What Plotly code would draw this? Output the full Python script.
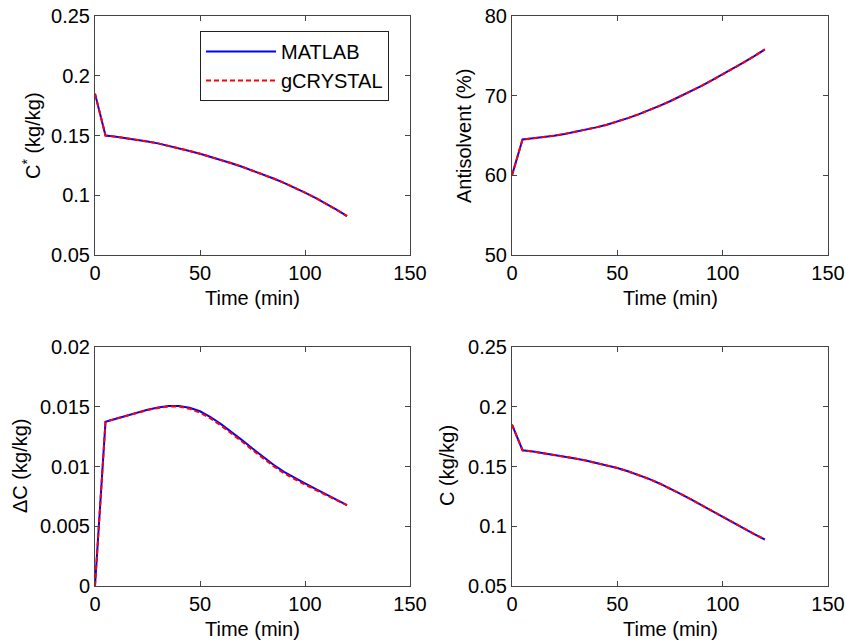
import plotly.graph_objects as go

# ---------------- data ----------------
time = [0, 5, 10, 15, 20, 25, 30, 35, 40, 45, 50, 55, 60, 65, 70, 75, 80, 85, 90, 95, 100, 105, 110, 115, 120]

cstar_matlab = [0.1850, 0.1500, 0.1490, 0.1478, 0.1465, 0.1450, 0.1434, 0.1415, 0.1394, 0.1371, 0.1347, 0.1322,
                0.1296, 0.1268, 0.1239, 0.1208, 0.1175, 0.1140, 0.1103, 0.1064, 0.1022, 0.0978, 0.0930, 0.0879, 0.0825]
cstar_gcrystal = [0.1850, 0.1500, 0.1490, 0.1478, 0.1465, 0.1450, 0.1434, 0.1415, 0.1394, 0.1371, 0.1347, 0.1322,
                  0.1296, 0.1268, 0.1239, 0.1208, 0.1175, 0.1140, 0.1103, 0.1064, 0.1022, 0.0978, 0.0930, 0.0879, 0.0825]

anti_matlab = [60.0, 64.5, 64.65, 64.8, 64.98, 65.2, 65.45, 65.72, 66.02, 66.36, 66.75, 67.18, 67.65, 68.16, 68.71,
               69.3, 69.92, 70.57, 71.24, 71.94, 72.66, 73.4, 74.17, 74.96, 75.8]
anti_gcrystal = [60.0, 64.5, 64.65, 64.8, 64.98, 65.2, 65.45, 65.72, 66.02, 66.36, 66.75, 67.18, 67.65, 68.16, 68.71,
                 69.3, 69.92, 70.57, 71.24, 71.94, 72.66, 73.4, 74.17, 74.96, 75.8]

dc_matlab = [0.0, 0.01374, 0.01400, 0.01427, 0.01453, 0.01475, 0.01494, 0.01506, 0.01506, 0.01492, 0.01462, 0.01414,
             0.01355, 0.01290, 0.01221, 0.01150, 0.01081, 0.01015, 0.00955, 0.00903, 0.00858, 0.00812, 0.00768,
             0.00722, 0.00676]
dc_gcrystal = [0.0, 0.01374, 0.01400, 0.01426, 0.01451, 0.01472, 0.01490, 0.01502, 0.01501, 0.01484, 0.01450,
               0.01402, 0.01343, 0.01278, 0.01209, 0.01138, 0.01069, 0.01003, 0.00943, 0.00892, 0.00848, 0.00805,
               0.00763, 0.00719, 0.00676]

c_matlab = [0.1850, 0.1636, 0.1625, 0.1612, 0.1598, 0.1583, 0.1567, 0.1550, 0.1531, 0.1510, 0.1487, 0.1460, 0.1430,
            0.1396, 0.1358, 0.1316, 0.1271, 0.1224, 0.1175, 0.1126, 0.1077, 0.1029, 0.0982, 0.0935, 0.0889]
c_gcrystal = [0.1850, 0.1636, 0.1625, 0.1612, 0.1598, 0.1583, 0.1567, 0.1550, 0.1531, 0.1510, 0.1487, 0.1460, 0.1430,
              0.1396, 0.1358, 0.1316, 0.1271, 0.1224, 0.1175, 0.1126, 0.1077, 0.1029, 0.0982, 0.0935, 0.0889]

x_ticks = [0, 50, 100, 150]
series_names = ["MATLAB", "gCRYSTAL"]

# ---------------- figure ----------------
W, H = 845, 642
L, R, T, B = 95, 17, 16, 56
pw, ph = W - L - R, H - T - B

def px_x(p):
    return (p - L) / pw

def px_y(p):
    return (H - B - p) / ph

FONT = "Liberation Sans, Arial, sans-serif"
FS = 20

fig = go.Figure()

panels = [
    ("x", "y", cstar_matlab, cstar_gcrystal, True),
    ("x2", "y2", anti_matlab, anti_gcrystal, False),
    ("x3", "y3", dc_matlab, dc_gcrystal, False),
    ("x4", "y4", c_matlab, c_gcrystal, False),
]

for xa, ya, m, g, show in panels:
    fig.add_trace(go.Scatter(x=time, y=m, mode="lines", name=series_names[0],
                             line=dict(color="#0000ff", width=2),
                             xaxis=xa, yaxis=ya, showlegend=show))
    fig.add_trace(go.Scatter(x=time, y=g, mode="lines", name=series_names[1],
                             line=dict(color="#ff0000", width=2, dash="5px,3px"),
                             xaxis=xa, yaxis=ya, showlegend=show))

axis_common = dict(showline=True, linecolor="#444444", linewidth=1, mirror="allticks",
                   ticks="inside", ticklen=5, tickcolor="#444444", showgrid=False,
                   zeroline=False, automargin=False,
                   tickfont=dict(family=FONT, size=FS, color="black"))

xd_left = [0, px_x(410)]
xd_right = [px_x(512), 1]
yd_top = [px_y(255), 1]
yd_bot = [0, px_y(347)]

fig.update_layout(
    xaxis=dict(domain=xd_left, anchor="y", range=[0, 150], tickvals=x_ticks, **axis_common),
    yaxis=dict(domain=yd_top, anchor="x", range=[0.05, 0.25], tickvals=[0.05, 0.1, 0.15, 0.2, 0.25],
               ticktext=["0.05", "0.1", "0.15", "0.2", "0.25"], **axis_common),
    xaxis2=dict(domain=xd_right, anchor="y2", range=[0, 150], tickvals=x_ticks, **axis_common),
    yaxis2=dict(domain=yd_top, anchor="x2", range=[50, 80], tickvals=[50, 60, 70, 80], **axis_common),
    xaxis3=dict(domain=xd_left, anchor="y3", range=[0, 150], tickvals=x_ticks, **axis_common),
    yaxis3=dict(domain=yd_bot, anchor="x3", range=[0, 0.02], tickvals=[0, 0.005, 0.01, 0.015, 0.02],
                ticktext=["0", "0.005", "0.01", "0.015", "0.02"], **axis_common),
    xaxis4=dict(domain=xd_right, anchor="y4", range=[0, 150], tickvals=x_ticks, **axis_common),
    yaxis4=dict(domain=yd_bot, anchor="x4", range=[0.05, 0.25], tickvals=[0.05, 0.1, 0.15, 0.2, 0.25],
                ticktext=["0.05", "0.1", "0.15", "0.2", "0.25"], **axis_common),
)

annots = []
for cx, cy in [(252, 298), (670, 298), (252, 629), (670, 629)]:
    annots.append(dict(text="Time (min)", x=px_x(cx), y=px_y(cy), xref="paper", yref="paper",
                       showarrow=False, xanchor="center", yanchor="middle",
                       font=dict(family=FONT, size=FS, color="black")))
for txt, cx, cy in [("C<sup>*</sup> (kg/kg)", 31, 136), ("Antisolvent (%)", 464, 136),
                    ("ΔC (kg/kg)", 20, 466), ("C (kg/kg)", 447, 466)]:
    annots.append(dict(text=txt, x=px_x(cx), y=px_y(cy), xref="paper", yref="paper",
                       showarrow=False, xanchor="center", yanchor="middle", textangle=-90,
                       font=dict(family=FONT, size=FS, color="black")))

fig.update_layout(
    width=W, height=H,
    margin=dict(l=L, r=R, t=T, b=B, autoexpand=False),
    paper_bgcolor="white", plot_bgcolor="white",
    annotations=annots,
    legend=dict(x=px_x(200), y=px_y(31), xanchor="left", yanchor="top",
                bordercolor="#222222", borderwidth=1, bgcolor="white",
                font=dict(family=FONT, size=FS, color="black"),
                tracegroupgap=0, itemwidth=70),
)

fig.write_html("out.html")
